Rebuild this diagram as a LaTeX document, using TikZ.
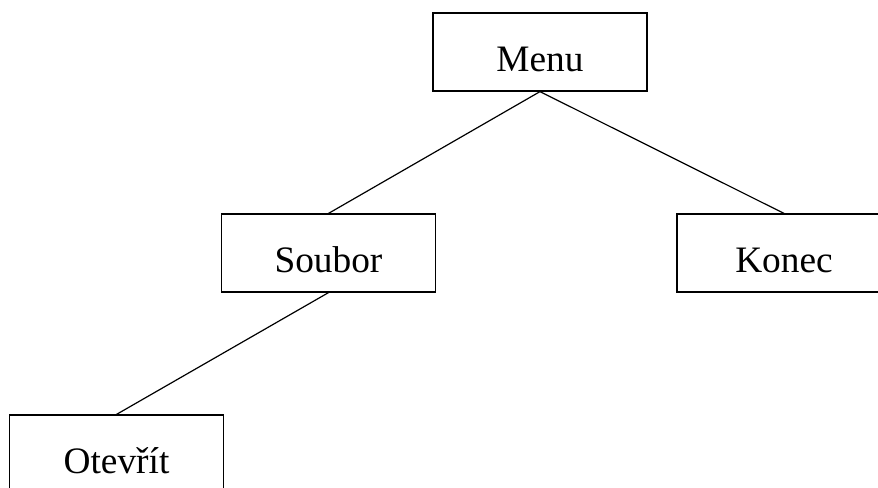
\documentclass[tikz,border=0pt]{standalone}
\usepackage{fontspec}
\setmainfont{Liberation Serif}
\usetikzlibrary{positioning}

\begin{document}
\begin{tikzpicture}[
  x=0.75pt, y=-0.75pt,
  font=\fontsize{28}{34}\selectfont,
  box/.style={draw, line width=0.9pt, inner sep=0pt, minimum width=160.5pt,
              text height=43.5pt, text depth=15pt},
  con/.style={line width=0.9pt}
]
\useasboundingbox (0,0) rectangle (878,487);
\node[box] (menu) at (540,52) {Menu};
\node[box] (soubor) at (328.5,253) {Soubor};
\node[box] (konec) at (784,253) {Konec};
\node[box] (otevrit) at (116.5,454) {Otevřít};
\draw[con] (menu.south) -- (soubor.north);
\draw[con] (menu.south) -- (konec.north);
\draw[con] (soubor.south) -- (otevrit.north);
\end{tikzpicture}
\end{document}
